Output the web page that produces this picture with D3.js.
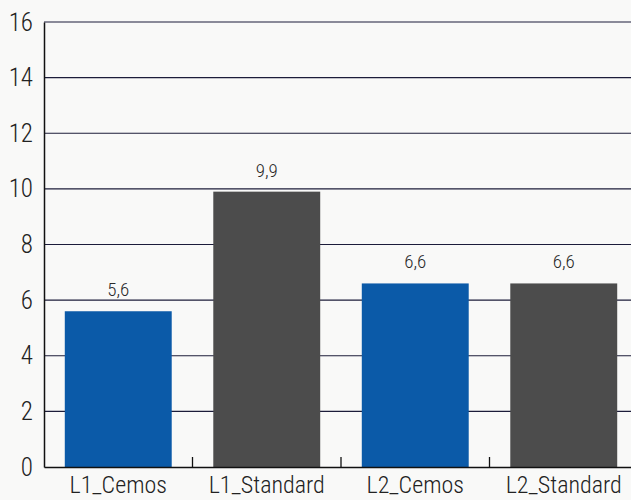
<!DOCTYPE html>
<html><head><meta charset="utf-8">
<script src="https://cdn.jsdelivr.net/npm/d3@7"></script>
<style>body{margin:0;background:#f9f9f8;}svg{display:block;}</style>
</head><body>
<svg id="chart" width="631" height="500"></svg>
<script>
const categories = ["L1_Cemos", "L1_Standard", "L2_Cemos", "L2_Standard"];
const values = [5.6, 9.9, 6.6, 6.6];
const valueLabels = ["5,6", "9,9", "6,6", "6,6"];
const barColors = ["#0b5aa8", "#4c4c4c", "#0b5aa8", "#4c4c4c"];
const yTicks = [0, 2, 4, 6, 8, 10, 12, 14, 16];

const FONT = "'Roboto Condensed','Liberation Sans Narrow',sans-serif";
const svg = d3.select("#chart");
const m = {left: 44, top: 22, bottom: 33};
const W = 631, H = 500;
const plotRight = 638;
const x = d3.scaleBand().domain(categories).range([m.left, plotRight]).paddingInner(0.28).paddingOuter(0.14);
const y = d3.scaleLinear().domain([0, 16]).range([H - m.bottom, m.top]);

// gridlines
svg.append("g").selectAll("line").data(yTicks.filter(t => t > 0)).join("line")
  .attr("x1", m.left).attr("x2", W)
  .attr("y1", d => y(d)).attr("y2", d => y(d))
  .attr("stroke", "#1c1c3a").attr("stroke-width", 1.2);

// bars
svg.append("g").selectAll("rect").data(values).join("rect")
  .attr("x", (d, i) => x(categories[i]))
  .attr("width", x.bandwidth())
  .attr("y", d => y(d))
  .attr("height", d => y(0) - y(d))
  .attr("fill", (d, i) => barColors[i]);

// value labels
svg.append("g").selectAll("text").data(values).join("text")
  .attr("x", (d, i) => x(categories[i]) + x.bandwidth() / 2)
  .attr("y", d => y(d) - 15)
  .attr("text-anchor", "middle")
  .attr("font-family", FONT).attr("font-weight", 300).attr("font-size", 19).attr("fill", "#2a2a2a")
  .text((d, i) => valueLabels[i]);

// y axis
const yAxis = svg.append("g").attr("transform", `translate(${m.left},0)`)
  .call(d3.axisLeft(y).tickValues(yTicks).tickSize(0).tickPadding(11).tickFormat(d3.format("d")));
yAxis.select(".domain").attr("stroke", "#111").attr("stroke-width", 1.5);
yAxis.selectAll("text").attr("font-family", FONT).attr("font-weight", 300).attr("font-size", 25).attr("fill", "#222");

// x axis
const step = x.step();
const xAxis = svg.append("g").attr("transform", `translate(0,${y(0)})`)
  .call(d3.axisBottom(x).tickSize(0).tickPadding(0));
xAxis.select(".domain").attr("stroke", "#111").attr("stroke-width", 1.5);
xAxis.selectAll("text").attr("font-family", FONT).attr("font-weight", 300).attr("font-size", 24).attr("fill", "#222")
  .attr("y", 26).attr("dy", 0);
// category separator ticks (pointing up)
svg.append("g").selectAll("line").data(categories.slice(1)).join("line")
  .attr("x1", d => x(d) - step * 0.14).attr("x2", d => x(d) - step * 0.14)
  .attr("y1", y(0)).attr("y2", y(0) - 10)
  .attr("stroke", "#111").attr("stroke-width", 1.3);
</script>
</body></html>
